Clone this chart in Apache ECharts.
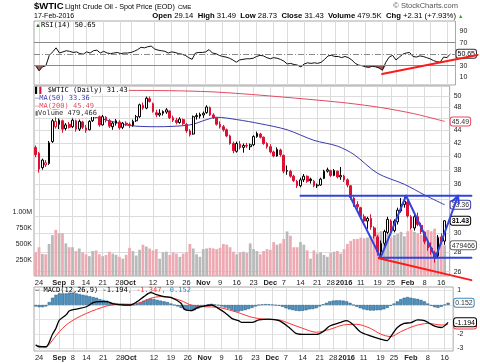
<!DOCTYPE html>
<html><head><meta charset="utf-8">
<script src="https://cdn.jsdelivr.net/npm/echarts@6/dist/echarts.min.js"></script>
<style>html,body{margin:0;padding:0;background:#fff}#c{width:480px;height:363px}</style>
</head><body><div id="c"></div>
<script>
// ---------- trading days ----------
const daysAug = [21,24,25,26,27,28,31];
const daysSep = [1,2,3,4,8,9,10,11,14,15,16,17,18,21,22,23,24,25,28,29,30];
const daysOct = [1,2,5,6,7,8,9,12,13,14,15,16,19,20,21,22,23,26,27,28,29,30];
const daysNov = [2,3,4,5,6,9,10,11,12,13,16,17,18,19,20,23,24,25,27,30];
const daysDec = [1,2,3,4,7,8,9,10,11,14,15,16,17,18,21,22,23,24,28,29,30,31];
const daysJan = [4,5,6,7,8,11,12,13,14,15,19,20,21,22,25,26,27,28,29];
const daysFeb = [1,2,3,4,5,8,9,10,11,12,16,17];

// ---------- tick labels ----------
const tickDates = ['Aug 24','Sep 1','Sep 8','Sep 14','Sep 21','Sep 28','Oct 1','Oct 12','Oct 19','Oct 26','Nov 2','Nov 9','Nov 16','Nov 23','Dec 1','Dec 7','Dec 14','Dec 21','Dec 28','Jan 4','Jan 11','Jan 19','Jan 25','Feb 1','Feb 8','Feb 16'];
const tickLabels = ['24','Sep','8','14','21','28','Oct','12','19','26','Nov','9','16','23','Dec','7','14','21','28','2016','11','19','25','Feb','8','16'];
const boldTicks = ['Sep','Oct','Nov','Dec','2016','Feb'];
const priceGridTicks = [26,28,30,32,34,36,38,40,42,44,46,48,50];
const priceLabelTicks = [26,28,30,36,38,40,42,44,48,50];
const volumeTicks = [250000,500000,750000,1000000];
const rsiTicks = [10,30,70,90];
const macdTicks = [1,-2,-3];
const macdGridTicks = [1,0,-1,-2,-3];

// ---------- OHLC ----------
const open = [41.3,40.4,38.3,38.7,38.9,42.2,44.6,45.0,45.6,44.3,
45.0,44.6,45.6,44.2,45.4,44.4,44.1,45.6,46.7,46.3,
44.9,46.2,45.6,44.6,45.2,45.4,44.5,45.2,45.0,44.8,
45.6,46.3,48.3,47.8,49.5,48.6,47.0,46.6,46.9,47.1,
47.3,46.1,45.7,45.3,45.8,45.0,43.9,43.4,46.3,46.4,
46.6,47.0,47.9,46.6,46.1,45.0,44.6,44.1,43.1,41.9,
40.7,41.8,41.3,41.6,41.4,41.7,43.0,43.4,42.9,41.9,
41.4,40.6,40.0,40.9,40.1,37.8,37.8,37.1,36.4,35.8,
36.6,37.1,36.7,36.4,35.8,35.9,36.8,37.8,37.9,37.2,
37.8,37.0,37.1,36.6,35.8,34.2,33.4,33.0,31.9,31.4,
31.7,30.6,29.6,28.0,28.9,30.1,31.4,30.3,31.3,32.6,
33.4,33.7,31.9,30.6,31.9,30.9,30.1,29.0,28.4,27.9,
27.6,29.6,29.14];
const high = [41.6,40.6,39.6,39.4,42.3,45.9,46.2,46.0,45.8,45.2,
45.4,46.0,45.8,45.8,45.6,44.9,45.7,47.0,47.2,46.5,
46.6,46.4,45.9,45.4,45.9,45.7,45.4,45.5,45.3,45.8,
46.6,48.6,48.8,49.9,49.9,48.8,47.5,47.6,47.4,47.8,
47.4,46.5,46.1,46.2,46.0,45.2,44.2,46.5,46.9,47.0,
47.2,48.3,48.1,46.9,46.2,45.5,44.9,44.3,43.3,42.2,
42.2,42.3,41.9,42.0,41.9,43.2,43.8,43.6,43.0,42.1,
41.8,40.8,41.3,41.1,40.2,38.6,38.0,37.3,36.6,36.9,
37.4,37.2,36.9,36.6,36.1,36.9,38.0,38.3,38.0,38.1,
37.9,38.4,37.3,36.8,35.9,34.4,33.8,33.1,32.2,31.9,
32.2,30.8,29.8,29.2,30.4,31.9,31.6,31.6,33.0,34.2,
34.4,33.9,32.1,32.2,32.4,31.2,30.2,29.3,29.0,28.1,
29.8,30.0,31.49];
const low = [39.8,37.6,38.0,38.4,38.7,42.0,44.3,44.2,43.6,44.0,
44.3,44.4,43.8,43.9,44.2,43.6,44.0,45.4,46.0,44.6,
44.8,45.3,44.4,44.1,44.8,44.1,44.2,44.7,44.4,44.6,
45.4,46.1,47.5,47.6,48.8,47.0,46.2,46.3,46.5,46.8,
45.9,45.4,45.0,45.1,44.9,43.6,43.0,43.3,45.8,46.0,
46.1,46.8,46.4,45.9,44.8,44.3,43.8,42.9,41.7,40.4,
40.5,41.0,40.5,41.2,40.9,41.5,42.8,42.7,41.7,41.1,
40.4,39.8,39.9,39.9,37.5,37.3,36.9,36.3,35.5,35.6,
36.3,36.2,36.1,35.6,35.5,35.8,36.7,37.6,37.0,37.1,
36.8,36.6,36.3,35.6,34.0,33.1,32.8,31.6,31.0,30.5,
30.4,29.4,27.6,27.3,28.5,29.9,29.9,30.1,31.0,32.4,
33.0,31.8,30.4,30.3,30.8,29.9,28.8,28.1,27.7,26.9,
27.4,28.8,28.73];
const close = [40.2,38.1,39.4,39.0,42.0,45.6,45.5,45.7,44.2,44.9,
44.5,45.7,44.2,45.5,44.5,44.0,45.5,46.8,46.5,44.9,
46.3,45.7,44.7,45.2,45.6,44.4,45.2,45.0,44.8,45.5,
46.3,48.4,47.8,49.6,49.0,47.2,46.6,46.9,47.2,47.5,
46.1,45.7,45.3,45.9,45.1,43.9,43.3,46.3,46.5,46.7,
46.9,48.0,46.6,46.1,45.0,44.6,44.1,43.1,41.9,40.8,
41.9,41.3,41.6,41.5,41.7,43.0,43.5,42.9,41.9,41.4,
40.6,40.0,41.0,40.2,37.8,37.9,37.1,36.5,35.8,36.6,
37.1,36.4,36.5,35.8,35.9,36.7,37.8,38.0,37.2,37.9,
37.0,37.2,36.6,35.9,34.3,33.4,33.1,31.9,31.4,31.7,
30.7,29.7,28.0,28.9,30.2,31.6,30.3,31.4,32.7,33.4,
33.8,32.0,30.6,31.9,31.0,30.2,29.1,28.4,28.0,27.4,
29.5,29.12,31.43];
// volume in thousands
const volumeK = [370,450,345,340,500,640,720,670,670,510,
450,450,390,430,370,340,310,390,400,340,
310,330,380,350,330,300,270,330,440,390,
320,410,490,460,430,400,420,270,370,380,
330,370,350,300,350,370,500,430,340,300,
420,430,440,430,420,440,500,490,450,380,
340,370,380,360,510,420,390,340,390,420,
410,530,490,510,578,697,630,450,450,530,
490,400,270,400,350,370,330,300,360,380,
390,350,420,500,550,580,580,600,590,600,
620,650,680,700,660,650,600,640,660,690,
620,700,720,690,670,640,700,720,700,740,
620,560,479.466];
const rsi = [30,21,28,30,48,54,61,52,54,56, 55,53,54,51,50,54,52,56,57,52,
55,52,51,52,53,51,52,52,53,55, 58,62,61,63,64,59,57,56,55,52,
54,53,51,50,48,44,41,52,53,53, 54,58,52,51,48,46,45,43,40,36,
40,41,42,42,43,46,48,47,44,42, 44,43,41,38,33,34,32,31,28,33,
35,34,35,34,36,41,47,48,46,46, 44,46,44,40,34,31,30,28,27,29,
28,26,22,36,45,48,40,45,50,52, 53,46,45,47,46,44,42,39,37,36,
45,44,50.65];
// moving averages: [day index, value]
const ma50Pts = [[0,48.2],[8,47.3],[15,46.6],[22,45.6],[28,44.8],[36,44.6],[46,44.9],[51,45.8],[54,46.2],[60,45.8],[67,45.1],[75,44.1],[83,42.4],[90,41.5],[95,40.2],[102,37.5],[110,36.0],[116,34.6],[122,33.36]];
const ma200Pts = [[0,51.3],[20,51.1],[40,51.0],[52,50.8],[62,50.4],[72,49.9],[83,49.3],[93,48.7],[103,47.9],[113,46.8],[122,45.49]];
// MACD
const macdPts = [[0,-2.76],[1,-2.88],[3,-2.88],[5,-2.0],[6,-1.6],[7,-1.05],[9,-0.68],[10,-0.4],[12,-0.28],[15,-0.12],[17,0.16],[19,0.23],[21,0.23],[23,0.07],[26,0],[28,0],[30,0.23],[32,0.58],[34,0.85],[36,0.69],[38,0.58],[40,0.53],[43,0.12],[44,-0.3],[46,-0.39],[48,-0.16],[50,-0.07],[52,0],[54,-0.23],[56,-0.53],[58,-0.92],[60,-1.08],[61,-1.2],[64,-1.2],[66,-1.03],[69,-0.97],[72,-1.08],[75,-1.55],[77,-1.95],[80,-2.03],[83,-2.03],[85,-1.84],[87,-1.45],[90,-1.22],[92,-1.08],[94,-1.38],[96,-1.84],[99,-2.13],[102,-2.35],[104,-2.46],[105,-2.18],[107,-1.55],[109,-1.27],[111,-1.22],[113,-1.03],[115,-1.08],[118,-1.45],[120,-1.55],[122,-1.194]];
const signalPts = [[0,-2.76],[3,-2.9],[5,-2.42],[7,-1.84],[9,-1.38],[12,-0.92],[15,-0.58],[18,-0.3],[21,-0.07],[25,0.07],[28,0.05],[31,0.16],[34,0.46],[37,0.58],[40,0.5],[43,0.3],[46,0],[50,-0.12],[54,-0.16],[58,-0.39],[60,-0.53],[64,-0.85],[68,-0.99],[72,-1.03],[75,-1.27],[79,-1.61],[83,-1.88],[87,-1.68],[91,-1.38],[95,-1.33],[99,-1.61],[102,-2.0],[105,-2.18],[108,-1.84],[112,-1.45],[116,-1.27],[120,-1.38],[122,-1.347]];
const hist = [-0.1,-0.15,-0.15,-0.1,0.2,0.5,0.7,0.8,0.8,0.8,
0.85,0.85,0.8,0.75,0.7,0.65,0.6,0.55,0.5,0.4,
0.35,0.3,0.2,0.15,0.1,0.05,0.02,-0.02,-0.03,0.02,
0.08,0.2,0.3,0.4,0.45,0.4,0.35,0.3,0.25,0.2,
0.1,0.0,-0.1,-0.2,-0.3,-0.38,-0.42,-0.35,-0.25,-0.15,
-0.05,0.05,0.08,0.03,-0.02,-0.1,-0.18,-0.25,-0.35,-0.45,
-0.45,-0.4,-0.35,-0.28,-0.2,-0.1,0.0,0.04,0.06,0.05,
0.02,-0.02,-0.05,-0.12,-0.22,-0.3,-0.35,-0.4,-0.42,-0.4,
-0.36,-0.3,-0.28,-0.22,-0.1,0.05,0.15,0.25,0.3,0.32,
0.32,0.3,0.25,0.15,0.0,-0.12,-0.22,-0.3,-0.35,-0.38,
-0.38,-0.36,-0.35,-0.3,-0.2,-0.05,0.1,0.25,0.4,0.5,
0.55,0.5,0.45,0.42,0.35,0.25,0.1,-0.05,-0.15,-0.2,
-0.12,0.02,0.152];
// annotations: [x1, price1, x2, price2, arrow]
const blueSegments = [[79,34.5,130,34.5,0],[102.4,27.4,130,27.4,0],[93.7,34.5,102.9,27.4,0],[102.9,27.4,110.5,34.5,0],[110.5,34.5,119.3,27.4,0],[119.3,27.4,126,34.5,1]];
const redPriceSegments = [[102.4,27.33,130,25.2,0]];
const redRsiSegments = [[101.9,15.6,130,48.6,0]];
const priceTags = [{v:45.49,k:'r'},{v:33.36,k:'u'},{v:31.43,k:'k'}];
const volumeTag = 479466;
const rsiTag = 50.65;
const macdTagsBack = [{v:-1.347,k:'r',t:'-1.347'}];
const macdTagsFront = [{v:0.152,k:'bl',t:'0.152'},{v:-1.194,k:'k',t:'-1.194'}];
const priceMin = 25.59, priceMax = 51.9, volMax = 2.97e6;
const rsiMin = -3.6, rsiMax = 107.7, macdMin = -3.172, macdMax = 1.241;

// ---------- build ----------
const lg = v => Math.log10(v);
const cats = [];
[['Aug',daysAug],['Sep',daysSep],['Oct',daysOct],['Nov',daysNov],['Dec',daysDec],['Jan',daysJan],['Feb',daysFeb]].forEach(([m,ds])=>ds.forEach(d=>cats.push(m+' '+d)));
const N = close.length;
cats.push('');
const xMaxV = cats.length - 0.5;
const tickMap = {}; tickDates.forEach((d,k)=>tickMap[d]=tickLabels[k]);
const tickSet = new Set(tickDates.map(d=>cats.indexOf(d)));

const RED = '#dd1133', MONO = '"DejaVu Sans Mono", monospace', SANS = '"Liberation Sans", Arial, sans-serif';
const AXC = '#222';

function catAxis(g, showLabels){
  return {type:'category', gridIndex:g, data:cats, boundaryGap:true,
    axisLine:{show:false}, axisTick:{show:false},
    axisLabel:{show:showLabels, interval:(i)=>tickSet.has(i), margin:3, fontSize:7.5, fontFamily:SANS, color:AXC,
      formatter:(v)=>{const t=tickMap[v]; if(!t) return ''; return boldTicks.includes(t)?'{b|'+t+'}':t;},
      rich:{b:{fontWeight:'bold',fontSize:7.5,fontFamily:SANS,color:AXC}}},
    splitLine:{show:true, interval:(i)=>tickSet.has(i), alignWithLabel:true, lineStyle:{color:'#dcdcdc',width:1}}};
}
function valX(g){ return {type:'value', gridIndex:g, min:-0.5, max:xMaxV, show:false}; }
const tagBase = {backgroundColor:'#fff', borderWidth:1, padding:[1,1,0,1], borderRadius:2, fontSize:7, fontFamily:SANS};
function tagAxis(g, min, max, tags, rich){
  return {type:'value', gridIndex:g, position:'right', min, max, axisLine:{show:false}, axisTick:{show:false}, splitLine:{show:false},
    axisLabel:{customValues:tags.map(t=>t.pos), margin:1,
      formatter:(v)=>{const t=tags.reduce((a,b)=>Math.abs(b.pos-v)<Math.abs(a.pos-v)?b:a); return '{'+t.k+'|'+t.t+'}';}, rich}};
}

const blackCandles = [], redCandles = [], volData = [];
for (let i=0;i<N;i++){
  const up = i>0 && close[i] >= close[i-1];
  const item = [lg(open[i]), lg(close[i]), lg(low[i]), lg(high[i])];
  blackCandles.push(up ? item : '-');
  redCandles.push(up ? '-' : item);
  volData.push({value: volumeK[i]*1000, itemStyle:{color: up ? '#b9b9b9' : '#eeaab3'}});
}

function segRender(color, width){
  return function(params, api){
    const a = api.coord([api.value(0), api.value(1)]);
    const b = api.coord([api.value(2), api.value(3)]);
    const ch = [{type:'line', shape:{x1:a[0],y1:a[1],x2:b[0],y2:b[1]}, style:{stroke:color, lineWidth:width, lineCap:'round'}}];
    if (api.value(4) === 1){
      const ang = Math.atan2(b[1]-a[1], b[0]-a[0]);
      [-0.45,0.45].forEach(d=>ch.push({type:'line', shape:{x1:b[0],y1:b[1],x2:b[0]-8*Math.cos(ang+d),y2:b[1]-8*Math.sin(ang+d)}, style:{stroke:color,lineWidth:width,lineCap:'round'}}));
    }
    return {type:'group', children:ch};
  };
}

const richPrice = {r:Object.assign({},tagBase,{borderColor:'#e34a62',color:'#333'}), u:Object.assign({},tagBase,{borderColor:'#3a3ab0',color:'#333'}), k:Object.assign({},tagBase,{borderColor:'#000',color:'#000',fontWeight:'bold'})};
const richMacd = {bl:Object.assign({},tagBase,{borderColor:'#3a8cc0',color:'#333'}), r:Object.assign({},tagBase,{borderColor:'#ff3333',color:'#333'}), k:Object.assign({},tagBase,{borderColor:'#000',color:'#000'})};

const option = {
  animation:false, backgroundColor:'#fff',
  grid:[
    {left:34, right:21, top:21, height:64, show:true, borderColor:'#a8a8a8', borderWidth:1, backgroundColor:'#fff'},
    {left:34, right:21, top:86, height:190, show:true, borderColor:'#a8a8a8', borderWidth:1, backgroundColor:'#fff'},
    {left:34, right:21, top:287, height:64, show:true, borderColor:'#a8a8a8', borderWidth:1, backgroundColor:'#fff'}
  ],
  xAxis:[catAxis(0,false), valX(0), catAxis(1,true), valX(1), catAxis(2,true), valX(2)],
  yAxis:[
    {type:'value', gridIndex:0, position:'right', min:rsiMin, max:rsiMax, axisLine:{show:false}, axisTick:{show:false}, splitLine:{show:false},
      axisLabel:{customValues:rsiTicks, margin:4, fontSize:7, fontFamily:SANS, color:AXC}},
    tagAxis(0, rsiMin, rsiMax, [{pos:rsiTag, k:'t', t:rsiTag.toFixed(2)}], {t:Object.assign({},tagBase,{borderColor:'#333',color:'#000'})}),
    {type:'value', gridIndex:1, position:'right', min:lg(priceMin), max:lg(priceMax), axisLine:{show:false},
      axisTick:{show:false, customValues:priceGridTicks.map(lg)},
      splitLine:{show:true, customValues:priceGridTicks.map(lg), lineStyle:{color:'#dcdcdc'}},
      axisLabel:{customValues:priceLabelTicks.map(lg), formatter:(v)=>String(Math.round(Math.pow(10,v))), margin:4, fontSize:7, fontFamily:SANS, color:AXC}},
    {type:'value', gridIndex:1, position:'left', min:0, max:volMax, axisLine:{show:false}, axisTick:{show:false}, splitLine:{show:false},
      axisLabel:{customValues:volumeTicks, formatter:(v)=> v>=1e6 ? (v/1e6).toFixed(2)+'M' : Math.round(v/1000)+'K', margin:2, fontSize:7, fontFamily:SANS, color:AXC}},
    tagAxis(1, lg(priceMin), lg(priceMax), priceTags.map(t=>({pos:lg(t.v), k:t.k, t:t.v.toFixed(2)})), richPrice),
    tagAxis(1, 0, volMax, [{pos:volumeTag, k:'t', t:String(volumeTag)}], {t:Object.assign({},tagBase,{borderColor:'#666',color:'#333'})}),
    {type:'value', gridIndex:2, position:'right', min:macdMin, max:macdMax, axisLine:{show:false},
      axisTick:{show:false, customValues:macdGridTicks},
      splitLine:{show:true, customValues:macdGridTicks, lineStyle:{color:'#e4e4e4'}},
      axisLabel:{customValues:macdTicks, margin:4, fontSize:7, fontFamily:SANS, color:AXC}},
    tagAxis(2, macdMin, macdMax, macdTagsBack.map(t=>({pos:t.v, k:t.k, t:t.t})), richMacd),
    tagAxis(2, macdMin, macdMax, macdTagsFront.map(t=>({pos:t.v, k:t.k, t:t.t})), richMacd)
  ],
  series:[
    // RSI
    {type:'line', xAxisIndex:0, yAxisIndex:0, data:rsi.map(v=>Math.min(v,30)), symbol:'none', lineStyle:{width:0}, areaStyle:{origin:30, color:'#9e5b5b', opacity:1}, z:2},
    {type:'line', xAxisIndex:0, yAxisIndex:0, data:rsi, symbol:'none', lineStyle:{color:'#111', width:1}, z:3,
      markLine:{silent:true, symbol:'none', label:{show:false}, data:[
        {yAxis:70, lineStyle:{color:'#8a8a8a', width:1, type:'solid'}},
        {yAxis:30, lineStyle:{color:'#8a8a8a', width:1, type:'solid'}},
        {yAxis:50, lineStyle:{color:'#8a8a8a', width:1, type:[6,2,1,2]}}]}},
    {type:'custom', xAxisIndex:1, yAxisIndex:0, data:redRsiSegments, encode:{x:[0,2], y:[1,3]}, renderItem:segRender('#ff1a1a',2), clip:false, z:6},
    // volume
    {type:'bar', xAxisIndex:2, yAxisIndex:3, data:volData, barCategoryGap:'18%', z:1},
    // moving averages
    {type:'line', xAxisIndex:3, yAxisIndex:2, data:ma200Pts.map(p=>[p[0],lg(p[1])]), symbol:'none', smooth:0.3, lineStyle:{color:'#e34a62', width:1}, z:2},
    {type:'line', xAxisIndex:3, yAxisIndex:2, data:ma50Pts.map(p=>[p[0],lg(p[1])]), symbol:'none', smooth:0.3, lineStyle:{color:'#3a3ab0', width:1}, z:2},
    // candles
    {type:'candlestick', xAxisIndex:2, yAxisIndex:2, data:blackCandles, barWidth:2.2, z:4,
      itemStyle:{color:'#fff', color0:'#000', borderColor:'#000', borderColor0:'#000', borderWidth:1}},
    {type:'candlestick', xAxisIndex:2, yAxisIndex:2, data:redCandles, barWidth:2.2, z:4,
      itemStyle:{color:'#fff', color0:RED, borderColor:RED, borderColor0:RED, borderWidth:1}},
    // annotations
    {type:'custom', xAxisIndex:3, yAxisIndex:2, data:blueSegments.map(s=>[s[0],lg(s[1]),s[2],lg(s[3]),s[4]]), encode:{x:[0,2], y:[1,3]}, renderItem:segRender('#3344dd',2), clip:false, z:6},
    {type:'custom', xAxisIndex:3, yAxisIndex:2, data:redPriceSegments.map(s=>[s[0],lg(s[1]),s[2],lg(s[3]),s[4]]), encode:{x:[0,2], y:[1,3]}, renderItem:segRender('#ff1a1a',2), clip:false, z:6},
    // MACD
    {type:'bar', xAxisIndex:4, yAxisIndex:6, data:hist, barCategoryGap:'8%', itemStyle:{color:'#4d94c4', borderColor:'#21577d', borderWidth:0.5}, z:1},
    {type:'line', xAxisIndex:5, yAxisIndex:6, data:signalPts, symbol:'none', smooth:0.3, lineStyle:{color:'#ff3333', width:1}, z:2},
    {type:'line', xAxisIndex:5, yAxisIndex:6, data:macdPts, symbol:'none', smooth:0.3, lineStyle:{color:'#000', width:1.3}, z:3}
  ],
  graphic:[
    {type:'text', left:34, top:1.5, z:100, style:{text:'$WTIC', font:'bold 9.5px '+SANS, fill:'#000'}},
    {type:'text', left:65, top:3.5, z:100, style:{text:'Light Crude Oil - Spot Price (EOD)', font:'7.2px '+SANS, fill:'#000'}},
    {type:'text', left:178, top:4.5, z:100, style:{text:'CME', font:'6px '+SANS, fill:'#000'}},
    {type:'text', left:34, top:12.5, z:100, style:{text:'17-Feb-2016', font:'7px '+SANS, fill:'#000'}},
    {type:'text', right:24, top:12, z:100, style:{text:'{b|Open} 29.14  {b|High} 31.49  {b|Low} 28.73  {b|Close} 31.43  {b|Volume} 479.5K  {b|Chg} +2.31 (+7.93%)', font:'7.7px '+SANS, fill:'#000', rich:{b:{font:'bold 7.7px '+SANS, fill:'#000'}}}},
    {type:'text', left:458, top:13, z:100, style:{text:'▲', font:'5.5px '+SANS, fill:'#22aa22'}},
    {type:'text', right:22, top:2, z:100, style:{text:'© StockCharts.com', font:'7.5px '+SANS, fill:'#555'}},
    {type:'text', left:35, top:21.5, z:100, style:{text:'{g|▲}RSI(14) 50.65', font:'7px '+MONO, fill:'#000', rich:{g:{font:'6px '+SANS, fill:'#2a6a2a'}}}},
    {type:'text', left:35, top:87, z:100, style:{text:'{k|▌}{r|▌} $WTIC (Daily) 31.43', font:'7px '+MONO, fill:'#000', backgroundColor:'#fff', padding:[0,1,0,0], rich:{k:{font:'6px '+SANS, fill:'#000'}, r:{font:'6px '+SANS, fill:RED}}}},
    {type:'text', left:35, top:95, z:100, style:{text:'—MA(50) 33.36', font:'7px '+MONO, fill:'#3a3ab0', backgroundColor:'#fff', padding:[0,1,0,0]}},
    {type:'text', left:35, top:102.5, z:100, style:{text:'—MA(200) 45.49', font:'7px '+MONO, fill:'#e34a62', backgroundColor:'#fff', padding:[0,1,0,0]}},
    {type:'text', left:35, top:110, z:100, style:{text:'{v|▮}Volume 479,466', font:'7px '+MONO, fill:'#333', backgroundColor:'#fff', padding:[0,1,0,0], rich:{v:{font:'6px '+SANS, fill:'#777'}}}},
    {type:'text', left:35, top:287, z:100, style:{text:'— MACD(12,26,9) -1.194{r|, -1.347}{b|, 0.152}', font:'7px '+MONO, fill:'#000', rich:{r:{font:'7px '+MONO, fill:'#ff3333'}, b:{font:'7px '+MONO, fill:'#3a8cc0'}}}}
  ]
};
const chart = echarts.init(document.getElementById('c'), null, {renderer:'canvas', width:480, height:363});
chart.setOption(option);
</script>
</body></html>
